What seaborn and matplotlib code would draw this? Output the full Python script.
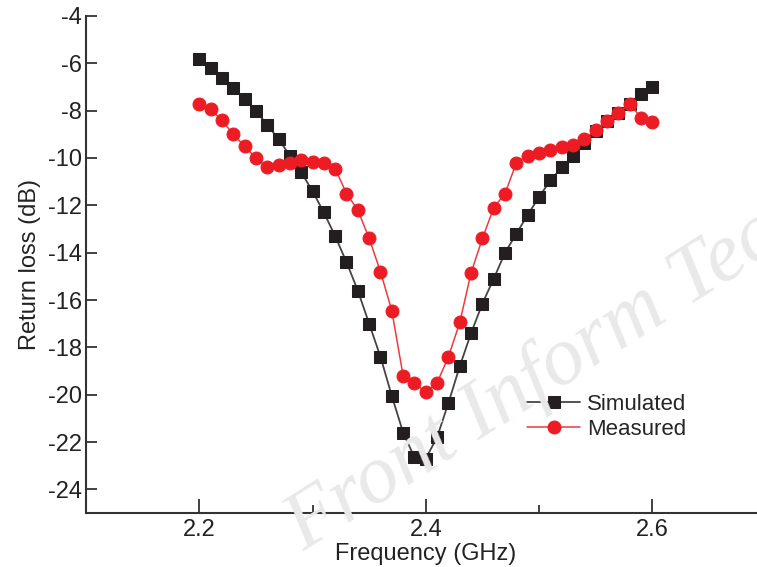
import numpy as np
import pandas as pd
import matplotlib
matplotlib.use("Agg")
import matplotlib.pyplot as plt
from matplotlib.ticker import MultipleLocator
import seaborn as sns

# [ data ] ---------------------------------------------------------------
freq = [2.20, 2.21, 2.22, 2.23, 2.24, 2.25, 2.26, 2.27, 2.28, 2.29,
        2.30, 2.31, 2.32, 2.33, 2.34, 2.35, 2.36, 2.37, 2.38, 2.39,
        2.40, 2.41, 2.42, 2.43, 2.44, 2.45, 2.46, 2.47, 2.48, 2.49,
        2.50, 2.51, 2.52, 2.53, 2.54, 2.55, 2.56, 2.57, 2.58, 2.59, 2.60]

simulated = [-5.8, -6.2, -6.6, -7.05, -7.5, -8.0, -8.6, -9.2, -9.9, -10.6,
             -11.4, -12.3, -13.3, -14.4, -15.6, -17.0, -18.4, -20.05, -21.6, -22.65,
             -22.7, -21.8, -20.35, -18.8, -17.4, -16.15, -15.1, -14.0, -13.2, -12.4,
             -11.65, -10.95, -10.4, -9.9, -9.35, -8.85, -8.45, -8.1, -7.7, -7.3, -7.0]

measured = [-7.7, -7.95, -8.4, -9.0, -9.5, -10.0, -10.4, -10.3, -10.2, -10.1,
            -10.15, -10.2, -10.45, -11.5, -12.2, -13.4, -14.8, -16.45, -19.2, -19.5,
            -19.9, -19.5, -18.4, -16.95, -14.85, -13.4, -12.1, -11.5, -10.2, -9.9,
            -9.8, -9.65, -9.55, -9.45, -9.2, -8.8, -8.45, -8.1, -7.7, -8.3, -8.5]

x_ticks = [2.2, 2.4, 2.6]
y_ticks = list(range(-24, -3, 2))

df = pd.DataFrame({'freq': freq, 'Simulated': simulated, 'Measured': measured})

# [ plot ] ---------------------------------------------------------------
sns.set_style("white")
plt.rcParams['font.family'] = ['Liberation Sans', 'DejaVu Sans']

fig = plt.figure(figsize=(7.57, 5.67), dpi=100)
ax = fig.add_axes([0.1136, 0.0952, 0.8977, 0.8766])

# watermark (behind everything, runs off the right edge like the original)
fig.text(0.36, 0.0, 'Front Inform Tec', family='Liberation Serif', style='italic',
         fontsize=60, color='#e9e9e9', rotation=32.5, ha='left', va='bottom',
         zorder=0)
ax.patch.set_alpha(0)

sns.lineplot(data=df, x='freq', y='Simulated', ax=ax, color='#444444', lw=1.3,
             marker='s', markersize=8, markerfacecolor='#231f20',
             markeredgecolor='#231f20', label='Simulated')
sns.lineplot(data=df, x='freq', y='Measured', ax=ax, color='#ee3a3f', lw=1.1,
             marker='o', markersize=9.3, markerfacecolor='#ed1c24',
             markeredgecolor='#ed1c24', label='Measured')

ax.set_xlim(2.1, 2.7)
ax.set_ylim(-25, -4)
ax.set_xticks(x_ticks)
ax.set_xticklabels(['2.2', '2.4', '2.6'])
ax.xaxis.set_minor_locator(MultipleLocator(0.1))
ax.set_yticks(y_ticks)
ax.set_yticklabels([str(v) for v in y_ticks])

for s in ['top', 'right']:
    ax.spines[s].set_visible(False)
for s in ['left', 'bottom']:
    ax.spines[s].set_color('#333333')
    ax.spines[s].set_linewidth(1.5)

ax.tick_params(axis='both', which='both', bottom=True, left=True, top=False, right=False)
ax.tick_params(axis='both', which='major', direction='in', length=8, width=1.3,
               colors='#333333', labelcolor='#222222', labelsize=17)
ax.tick_params(axis='x', which='major', length=10, pad=4)
ax.tick_params(axis='x', which='minor', direction='in', length=6, width=1.3,
               colors='#333333')
ax.tick_params(axis='y', which='major', pad=3)

ax.set_xlabel('Frequency (GHz)', fontsize=17, color='#222222', labelpad=2)
ax.set_ylabel('Return loss (dB)', fontsize=17, color='#222222', labelpad=5)

ax.legend(loc='upper left', bbox_to_anchor=(0.636, 0.258), frameon=False,
          fontsize=16, handlelength=2.4, handletextpad=0.3, labelspacing=0.2,
          borderaxespad=0)

fig.savefig('out.png', dpi=100)
